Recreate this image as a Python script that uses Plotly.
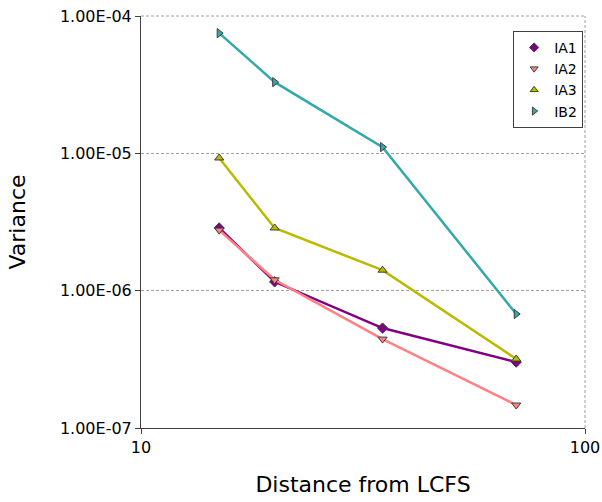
import plotly.graph_objects as go

distance = [15, 20, 35, 70]
ia1 = [2.86e-6, 1.16e-6, 5.34e-7, 3.02e-7]
ia2 = [2.76e-6, 1.20e-6, 4.44e-7, 1.47e-7]
ia3 = [9.25e-6, 2.86e-6, 1.41e-6, 3.18e-7]
ib2 = [7.5e-5, 3.3e-5, 1.11e-5, 6.76e-7]

series_names = ["IA1", "IA2", "IA3", "IB2"]
series_values = [ia1, ia2, ia3, ib2]
colors = ["#800080", "#FF8080", "#BABA00", "#33A9A9"]
symbols = ["diamond", "triangle-down", "triangle-up", "triangle-right"]

y_tickvals = [1e-7, 1e-6, 1e-5, 1e-4]
y_ticktext = ["1.00E-07", "1.00E-06", "1.00E-05", "1.00E-04"]
x_tickvals = [10, 100]
x_ticktext = ["10", "100"]

FONT = "DejaVu Sans"
GRID = "#A0A0A0"
fig = go.Figure()

for name, vals, c, s in zip(series_names, series_values, colors, symbols):
    fig.add_trace(go.Scatter(
        x=distance, y=vals, mode="lines+markers", name=name,
        line=dict(color=c, width=2.5),
        marker=dict(symbol=s, size=8, color=c, line=dict(color="#404040", width=1)),
        showlegend=False,
    ))
    fig.add_trace(go.Scatter(
        x=[None], y=[None], mode="markers", name=name,
        marker=dict(symbol=s, size=7, color=c, line=dict(color="#404040", width=1)),
        showlegend=True,
    ))

# dashed border along top and right edges (grid lines at range ends)
fig.add_shape(type="line", xref="paper", yref="paper", x0=0, x1=1, y0=1, y1=1,
              line=dict(color=GRID, width=1, dash="3px,2px"), layer="below")
fig.add_shape(type="line", xref="paper", yref="paper", x0=1, x1=1, y0=0, y1=1,
              line=dict(color=GRID, width=1, dash="3px,2px"), layer="below")

fig.update_layout(
    width=602, height=502,
    margin=dict(l=141, r=17, t=16, b=74),
    paper_bgcolor="white", plot_bgcolor="white",
    font=dict(family=FONT, color="black"),
    legend=dict(
        x=0.917, y=0.964, xanchor="center", yanchor="top",
        bordercolor="#404040", borderwidth=1,
        font=dict(size=14, family=FONT),
        itemwidth=30, bgcolor="white",
    ),
)

fig.update_xaxes(
    type="log", range=[1, 2], automargin=False,
    tickvals=x_tickvals, ticktext=x_ticktext,
    tickfont=dict(size=16, family=FONT),
    ticks="outside", ticklen=5, tickcolor="#404040",
    showline=True, linecolor="#404040", linewidth=1,
    showgrid=True, gridcolor=GRID, griddash="3px,2px", gridwidth=1,
    zeroline=False,
    title=dict(text="Distance from LCFS", font=dict(size=22, family=FONT), standoff=20),
)
fig.update_yaxes(
    type="log", range=[-7, -4], automargin=False,
    tickvals=y_tickvals, ticktext=y_ticktext,
    tickfont=dict(size=16, family=FONT),
    ticks="outside", ticklen=5, tickcolor="#404040",
    showline=True, linecolor="#404040", linewidth=1,
    showgrid=True, gridcolor=GRID, griddash="3px,2px", gridwidth=1,
    zeroline=False,
    title=dict(text="Variance", font=dict(size=22, family=FONT), standoff=28),
)

fig.write_html("out.html")
